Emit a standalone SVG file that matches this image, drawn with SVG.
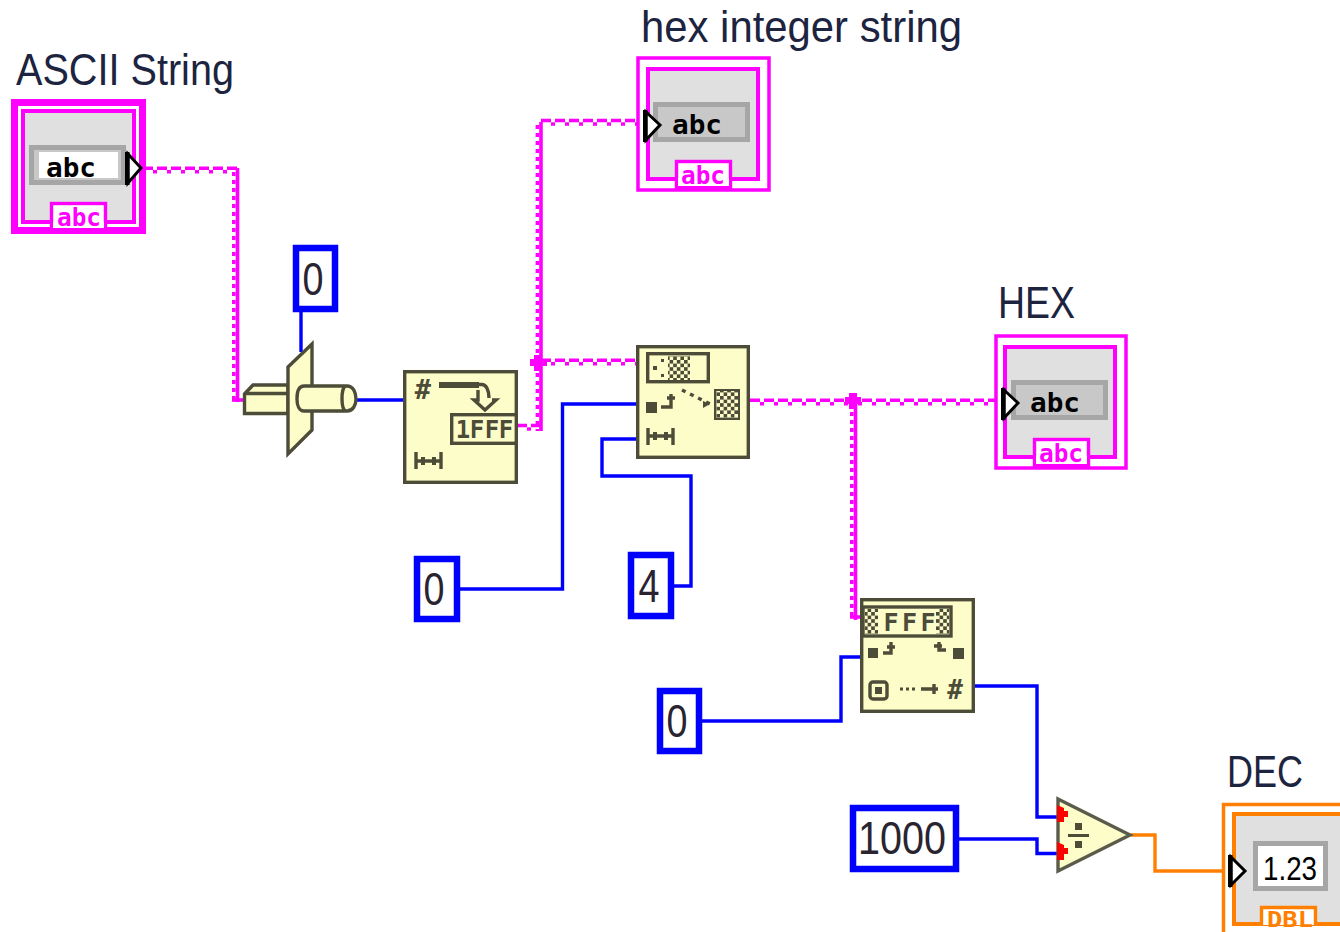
<svg xmlns="http://www.w3.org/2000/svg" width="1340" height="932" viewBox="0 0 1340 932">
<style>
.lab{font-family:"Liberation Sans",Arial,sans-serif;font-size:44px;fill:#1c2440}
.num{font-family:"Liberation Sans",Arial,sans-serif;font-size:46px;fill:#2a2430;text-anchor:middle}
.bx{fill:#fff;stroke:#0000ff;stroke-width:6.5}
.blue{fill:none;stroke:#0000ff;stroke-width:3.4}
.or{fill:none;stroke:#ff8000;stroke-width:3.4}
.pt{fill:none;stroke:#ff00ff;stroke-width:3.4;stroke-dasharray:10 4}
.pb{fill:none;stroke:#ff00ff;stroke-width:3.4;stroke-dasharray:4 10;stroke-dashoffset:-10}
.ps{fill:none;stroke:#ff00ff;stroke-width:3.6}
.pc{fill:none;stroke:#ff00ff;stroke-width:3.6;stroke-dasharray:4 4}
.blk{fill:#fdfdca;stroke:#4c4c38;stroke-width:3.4}
.dk{fill:#4c4c38}
.ln{fill:none;stroke:#4c4c38;stroke-width:3.4}
.ic{font-family:"DejaVu Sans Mono","Liberation Mono",monospace;font-weight:bold;fill:#4c4c38;text-anchor:middle}
.abc{font-family:"DejaVu Sans Mono","Liberation Mono",monospace;font-weight:bold;font-size:27px;fill:#000;text-anchor:middle}
.tag{font-family:"DejaVu Sans Mono","Liberation Mono",monospace;font-weight:bold;font-size:25px;fill:#ff00ff;text-anchor:middle}
.gray{fill:#e0e0e0}
.fr{fill:#c8c8c8;stroke:#a6a6a6;stroke-width:5}
.term{fill:#fff;stroke:#000;stroke-width:3}
</style>
<defs>
<pattern id="chk" width="7.2" height="7.2" patternUnits="userSpaceOnUse">
<rect width="7.2" height="7.2" fill="#fdfdca"/><rect width="3.6" height="3.6" fill="#4c4c38"/><rect x="3.6" y="3.6" width="3.6" height="3.6" fill="#4c4c38"/>
</pattern>
</defs>

<g id="connectors">
<path class="pt" d="M143 168.300H239"/><path class="pb" d="M143 171.700H239"/>
<path class="ps" d="M237.500 168V402"/><path class="pc" d="M233.800 172V402"/><path class="ps" d="M232 400H244"/>
<path class="pt" d="M517 425.500H541"/><path class="pb" d="M517 429H541"/>
<path class="ps" d="M541 122V431"/><path class="pc" d="M537.400 125V431"/>
<path class="pt" d="M541 120.500H640"/><path class="pb" d="M541 124H640"/>
<path class="pt" d="M541 360.300H637"/><path class="pb" d="M541 363.700H637"/>
<path fill="#ff00ff" d="M534 355h8v4h5v7h-5v5h-8v-5h-4v-7h4z"/>
<path class="pt" d="M750 400.300H1001"/><path class="pb" d="M750 403.700H1001"/>
<path class="ps" d="M855.500 400V620"/><path class="pc" d="M851.800 404V620"/>
<path fill="#ff00ff" d="M849 393h8v4h4v7h-4v5h-8v-5h-4v-7h4z"/>
<path class="ps" d="M850 617H861"/>
<path class="blue" d="M301 312V352"/>
<path class="blue" d="M356 400H404"/>
<path class="blue" d="M460 589H562.500V404H637"/>
<path class="blue" d="M673 586H691V476H602V439H637"/>
<path class="blue" d="M702 721H841V657H861"/>
<path class="blue" d="M974 686H1037V817H1058"/>
<path class="blue" d="M959 839H1037V853.500H1058"/>
<path class="or" d="M1131 835H1155V871H1225"/>
</g>

<g id="ascii-string">
<text class="lab" x="16" y="85" textLength="218" lengthAdjust="spacingAndGlyphs">ASCII String</text>
<rect x="14.500" y="102.500" width="128" height="128" fill="#fff" stroke="#ff00ff" stroke-width="7"/>
<rect x="23" y="111" width="111" height="111" class="gray" stroke="#ff00ff" stroke-width="4"/>
<rect x="31.500" y="147.500" width="92" height="35" class="fr"/>
<rect x="39" y="152" width="79" height="26" fill="#fff"/>
<text class="abc" x="71" y="177" textLength="50" lengthAdjust="spacingAndGlyphs">abc</text>
<path class="term" d="M128 154L141 168L128 183Z"/><rect x="125" y="152" width="4.500" height="33"/>
<rect x="51.500" y="203.500" width="54" height="26" fill="#fff" stroke="#ff00ff" stroke-width="3.400"/>
<rect x="53" y="222" width="51" height="6" fill="#fff"/>
<text class="tag" x="79" y="226" textLength="44" lengthAdjust="spacingAndGlyphs">abc</text>
</g>

<g id="hex-integer-string">
<text class="lab" x="641" y="42" textLength="321" lengthAdjust="spacingAndGlyphs">hex integer string</text>
<rect x="638" y="58" width="131" height="132" fill="#fff" stroke="#ff00ff" stroke-width="3.500"/>
<rect x="648" y="69" width="110" height="110" class="gray" stroke="#ff00ff" stroke-width="4"/>
<rect x="655.500" y="104.500" width="92" height="35" class="fr"/>
<text class="abc" x="697" y="134" textLength="50" lengthAdjust="spacingAndGlyphs">abc</text>
<path class="term" d="M646 112L660 125L646 140Z"/><rect x="643" y="110" width="4.500" height="32"/>
<rect x="676.500" y="161.500" width="54" height="26" fill="#fff" stroke="#ff00ff" stroke-width="3.400"/>
<rect x="678" y="178" width="51" height="8" fill="#fff"/>
<text class="tag" x="703" y="184" textLength="44" lengthAdjust="spacingAndGlyphs">abc</text>
</g>

<g id="hex">
<text class="lab" x="998" y="318" textLength="77" lengthAdjust="spacingAndGlyphs">HEX</text>
<rect x="996" y="336" width="130" height="132" fill="#fff" stroke="#ff00ff" stroke-width="3.500"/>
<rect x="1005" y="347" width="110" height="110" class="gray" stroke="#ff00ff" stroke-width="4"/>
<rect x="1013.500" y="382.500" width="92" height="35" class="fr"/>
<text class="abc" x="1055" y="412" textLength="50" lengthAdjust="spacingAndGlyphs">abc</text>
<path class="term" d="M1004 390L1018 403L1004 418Z"/><rect x="1001" y="388" width="4.500" height="32"/>
<rect x="1034.500" y="439.500" width="54" height="26" fill="#fff" stroke="#ff00ff" stroke-width="3.400"/>
<rect x="1036" y="456" width="51" height="8" fill="#fff"/>
<text class="tag" x="1061" y="462" textLength="44" lengthAdjust="spacingAndGlyphs">abc</text>
</g>

<g id="dec">
<text class="lab" x="1227" y="787" textLength="76" lengthAdjust="spacingAndGlyphs">DEC</text>
<rect x="1223.500" y="804.500" width="140" height="160" fill="#fff" stroke="#ff8000" stroke-width="3.500"/>
<rect x="1234" y="814" width="130" height="110" class="gray" stroke="#ff8000" stroke-width="4"/>
<rect x="1255.500" y="843.500" width="70" height="45" fill="#fff" stroke="#a6a6a6" stroke-width="5"/>
<rect x="1263" y="852" width="54" height="32" fill="#fff"/>
<text class="abc" x="1290" y="880" style="font-family:'Liberation Sans',Arial,sans-serif;font-weight:normal;font-size:34px" textLength="54" lengthAdjust="spacingAndGlyphs">1.23</text>
<path class="term" d="M1231 857L1245 871L1231 885Z"/><rect x="1228" y="855" width="4.500" height="32"/>
<path d="M1261.500 925V907.500H1315.500V925" fill="#fff" stroke="#ff8000" stroke-width="3.400"/>
<text class="tag" x="1290" y="927" style="fill:#ff8000;font-size:21px" textLength="46" lengthAdjust="spacingAndGlyphs">DBL</text>
</g>

<g id="const-0-a"><rect class="bx" x="296" y="248" width="39" height="61"/><text class="num" x="313" y="295" textLength="21" lengthAdjust="spacingAndGlyphs">0</text></g>
<g id="const-0-b"><rect class="bx" x="417" y="559" width="40" height="60"/><text class="num" x="434" y="605" textLength="21" lengthAdjust="spacingAndGlyphs">0</text></g>
<g id="const-4"><rect class="bx" x="631" y="555" width="40" height="61"/><text class="num" x="649" y="602" textLength="21" lengthAdjust="spacingAndGlyphs">4</text></g>
<g id="const-0-c"><rect class="bx" x="660" y="691" width="39" height="60"/><text class="num" x="677" y="737" textLength="21" lengthAdjust="spacingAndGlyphs">0</text></g>
<g id="const-1000"><rect class="bx" x="853" y="808" width="103" height="61"/><text class="num" x="902" y="854" textLength="88" lengthAdjust="spacingAndGlyphs">1000</text></g>

<g id="cast">
<path class="blk" d="M244.500 394L253 385H288V413.500H244.500Z"/>
<path class="ln" d="M244.500 393.500H288"/>
<path class="blk" d="M288 367L312 344V430L288 454Z"/>
<path class="blk" d="M304 386H347C353 386 356 392 356 399C356 405 353 411 347 411H304C299 411 297 405 297 399C297 392 299 386 304 386Z"/>
<path class="ln" d="M345 386C341 390 341 407 345 411"/>
</g>

<g id="number-to-hex">
<rect class="blk" x="404.700" y="371.700" width="111.600" height="110.600"/>
<text class="ic" x="423" y="399" font-size="27">#</text>
<rect class="dk" x="439" y="382" width="40" height="6"/>
<path class="ln" d="M476 384.500H482C486 384.500 489 390 489 398"/>
<path class="ln" d="M478 390L478 400L474 400L485 410L496 400L492 400"/>
<rect class="blk" x="451.700" y="414.700" width="64.600" height="28.600"/>
<text class="ic" x="463 477 492 506" y="438" font-size="24">1FFF</text>
<path class="ln" d="M416 452V469M441 452V469M416 461H441"/>
<path class="dk" d="M421 457h4v8h-4zM432 457h4v8h-4z"/>
</g>

<g id="string-subset">
<rect class="blk" x="637.700" y="346.700" width="110.600" height="110.600"/>
<rect class="ln" x="647.700" y="353.700" width="60.600" height="28"/>
<rect x="668" y="356" width="22" height="24" fill="url(#chk)"/>
<rect class="dk" x="653" y="366" width="4" height="4"/><rect class="dk" x="661" y="359" width="3" height="3"/><rect class="dk" x="661" y="374" width="3" height="3"/>
<rect class="dk" x="646" y="402" width="11" height="11"/>
<path class="ln" d="M661 407H671V394M667 398H675"/>
<path d="M682 390L710 404" fill="none" stroke="#4c4c38" stroke-width="3.400" stroke-dasharray="4 5"/>
<path class="dk" d="M703 401L710 404L703 408Z"/>
<rect x="715" y="390" width="24" height="29" fill="url(#chk)" stroke="#4c4c38" stroke-width="2"/>
<path class="ln" d="M648 428V445M673 428V445M648 436H673"/>
<path class="dk" d="M653 432h4v8h-4zM664 432h4v8h-4z"/>
</g>

<g id="hex-string-to-number">
<rect class="blk" x="861.700" y="599.700" width="111.600" height="111.600"/>
<rect class="blk" x="863" y="607" width="88" height="29"/>
<rect x="865" y="609" width="13" height="25" fill="url(#chk)"/>
<rect x="936" y="609" width="13" height="25" fill="url(#chk)"/>
<text class="ic" x="891 909.500 928" y="631" font-size="25">FFF</text>
<rect class="dk" x="868" y="648" width="10" height="10"/>
<path class="ln" d="M883 653H891V642M887 647H895"/>
<path class="ln" d="M939 642V650H946M934 646H942"/>
<rect class="dk" x="953" y="648" width="11" height="11"/>
<rect class="ln" x="870" y="682" width="17" height="17" rx="3"/>
<rect class="dk" x="875" y="687" width="7" height="7"/>
<path d="M900 689H918" fill="none" stroke="#4c4c38" stroke-width="3" stroke-dasharray="3 3"/>
<path class="ln" d="M921 689H938M934 684V694"/>
<text class="ic" x="955" y="699" font-size="26">#</text>
</g>

<g id="divide">
<path d="M1058 799L1130 835L1058 871Z" fill="#fdfdca" stroke="#5c5c4c" stroke-width="3.400"/>
<path fill="#ff0000" d="M1057 805L1064 808V811H1068V817H1064V822H1057Z"/>
<path fill="#ff0000" d="M1057 842L1064 845V848H1068V854H1064V860H1057Z"/>
<rect class="dk" x="1075" y="823" width="7" height="7"/>
<rect class="dk" x="1068" y="834" width="21" height="3"/>
<rect class="dk" x="1075" y="841" width="7" height="7"/>
</g>
</svg>
